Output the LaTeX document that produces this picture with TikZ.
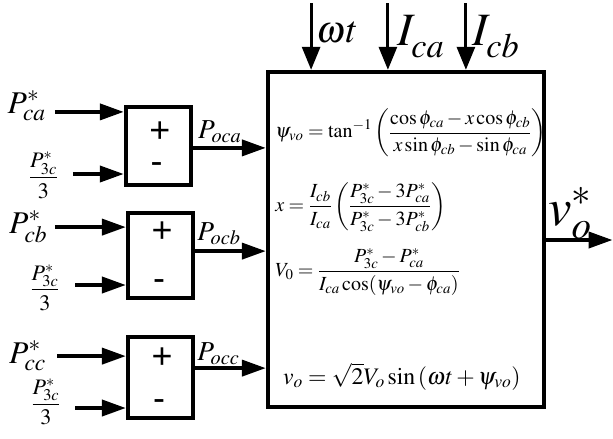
\documentclass[tikz,border=0pt]{standalone}
\usepackage{amsmath}
\usepackage{mathptmx}
\usepackage[no-math]{fontspec}
\newfontfamily\signfont{Liberation Sans}
\usetikzlibrary{arrows.meta, calc}
\newcommand{\lowsub}[1]{\lower5pt\hbox{$\scriptstyle #1$}}

\begin{document}
\begin{tikzpicture}[
  sumbox/.style={draw, line width=3.8pt, minimum width=2.17cm, inner sep=0pt},
  ctrlbox/.style={draw, line width=3.8pt, minimum width=9.2cm, minimum height=11.17cm, inner sep=0pt},
  sign/.style={font=\fontsize{34}{38}\signfont, inner sep=0pt},
  arr/.style={-{Triangle[length=0.8cm, width=0.53cm]}, line width=3.8pt},
  tarr/.style={-{Triangle[length=0.77cm, width=0.6cm]}, line width=3pt},
  inlbl/.style={font=\fontsize{30}{34}\selectfont, inner sep=0pt, anchor=base west},
  frac/.style={font=\fontsize{21}{24}\selectfont, inner sep=0pt},
  outlbl/.style={font=\fontsize{26}{30}\selectfont, inner sep=0pt, anchor=base west},
  biglbl/.style={font=\fontsize{44}{48}\selectfont, inner sep=0pt, anchor=base west},
  eqn/.style={font=\fontsize{19}{22}\selectfont, inner sep=0pt, anchor=west}
]
\useasboundingbox (0,0) rectangle (20.433,-14.6);

% --- Controller block with its equations ---
\node[ctrlbox] (ctrl) at (13.53,-7.98) {};
\node[eqn] (eqpsi) at (9.17,-4.43) {$\displaystyle \psi_{vo}=\tan^{-1}\left(\frac{\cos\phi_{ca}-x\cos\phi_{cb}}{x\sin\phi_{cb}-\sin\phi_{ca}}\right)$};
\node[eqn] (eqx) at (9.17,-6.9) {$\displaystyle x=\frac{I_{cb}}{I_{ca}}\left(\frac{P^*_{3c}-3P^*_{ca}}{P^*_{3c}-3P^*_{cb}}\right)$};
\node[eqn] (eqv) at (9.17,-9.07) {$\displaystyle V_0=\frac{P^*_{3c}-P^*_{ca}}{I_{ca}\cos(\psi_{vo}-\phi_{ca})}$};
\node[eqn, font=\fontsize{22.5}{26}\selectfont] (eqvo) at (9.43,-12.55) {$v_o=\sqrt{2}V_o\sin\left(\omega t+\psi_{vo}\right)$};

% --- Summing blocks ---
\node[sumbox, minimum height=2.6cm] (sum1) at (5.28,-4.87) {};
\node[sumbox, minimum height=2.83cm] (sum2) at (5.35,-8.52) {};
\node[sumbox, minimum height=2.7cm] (sum3) at (5.35,-12.58) {};
\node[sign] (plus1) at (5.33,-4.4) {+};
\node[sign] (minus1) at (5.22,-5.6) {-};
\node[sign] (plus2) at (5.4,-7.73) {+};
\node[sign] (minus2) at (5.3,-9.5) {-};
\node[sign] (plus3) at (5.4,-11.93) {+};
\node[sign] (minus3) at (5.3,-13.5) {-};

% --- Inputs of the summing blocks ---
\coordinate (inca) at (1.83,-3.73);
\coordinate (inab) at (2.43,-5.8);
\coordinate (incb) at (1.83,-7.57);
\coordinate (inbb) at (2.5,-9.5);
\coordinate (incc) at (1.9,-11.87);
\coordinate (incb3) at (2.5,-13.6);
\draw[arr] (inca) -- (inca -| sum1.west);
\draw[arr] (inab) -- (inab -| sum1.west);
\draw[arr] (incb) -- (incb -| sum2.west);
\draw[arr] (inbb) -- (inbb -| sum2.west);
\draw[arr] (incc) -- (incc -| sum3.west);
\draw[arr] (incb3) -- (incb3 -| sum3.west);

\node[inlbl] (lpca) at (0.25,-3.77) {$P^*_{ca}$};
\node[inlbl] (lpcb) at (0.3,-7.77) {$P^*_{cb}$};
\node[inlbl] (lpcc) at (0.3,-12.1) {$P^*_{cc}$};
\node[frac] (lfa) at (1.45,-5.85) {$\dfrac{P^*_{3c}}{3}$};
\node[frac] (lfb) at (1.5,-9.59) {$\dfrac{P^*_{3c}}{3}$};
\node[frac] (lfc) at (1.53,-13.4) {$\dfrac{P^*_{3c}}{3}$};

% --- Summing blocks -> controller ---
\coordinate (oca) at (0,-4.93);
\coordinate (ocb) at (0,-8.37);
\coordinate (occ) at (0,-12.27);
\draw[arr] (oca -| sum1.east) -- (oca -| ctrl.west);
\draw[arr] (ocb -| sum2.east) -- (ocb -| ctrl.west);
\draw[arr] (occ -| sum3.east) -- (occ -| ctrl.west);
\node[outlbl] (lpoca) at (6.6,-4.6) {$P_{oca}$};
\node[outlbl] (lpocb) at (6.57,-8.0) {$P_{ocb}$};
\node[outlbl] (lpocc) at (6.57,-12.0) {$P_{occ}$};

% --- Top inputs ---
\coordinate (wt) at (10.37,-0.1);
\coordinate (ica) at (12.93,-0.1);
\coordinate (icb) at (15.53,-0.1);
\draw[tarr] (wt) -- (wt |- ctrl.north);
\draw[tarr] (ica) -- (ica |- ctrl.north);
\draw[tarr] (icb) -- (icb |- ctrl.north);
\node[biglbl, font=\fontsize{36}{40}\selectfont] (lwt) at (10.55,-1.43) {$\omega t$};
\node[biglbl] (lica) at (13.23,-1.5) {$I_{\lowsub{ca}}$};
\node[biglbl] (licb) at (15.73,-1.5) {$I_{\lowsub{cb}}$};

% --- Output ---
\coordinate (vout) at (20.42,-8.0);
\draw[arr] (vout -| ctrl.east) -- (vout);
\node[biglbl, font=\fontsize{50}{54}\selectfont] (lvo) at (18.27,-7.5) {$v^*_o$};

\end{tikzpicture}
\end{document}
